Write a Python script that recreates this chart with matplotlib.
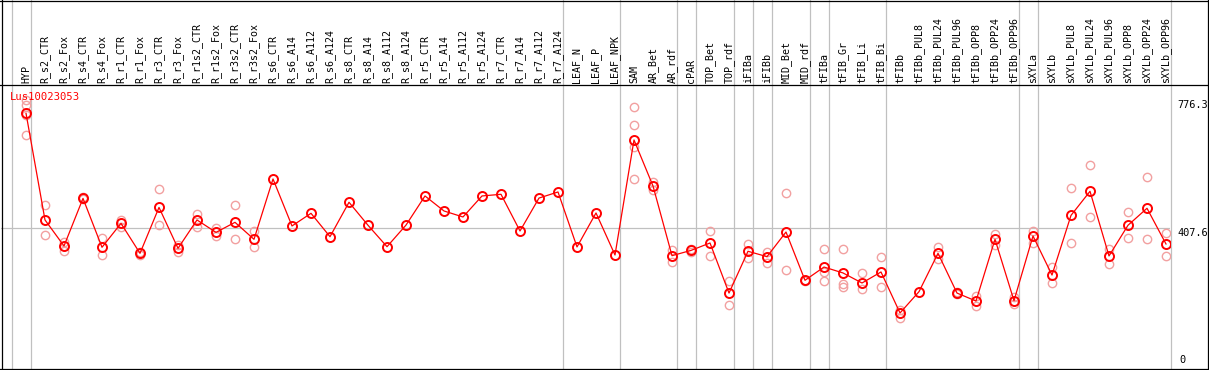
import matplotlib
matplotlib.use("Agg")
import matplotlib.pyplot as plt
from matplotlib.lines import Line2D
from matplotlib.transforms import blended_transform_factory

W, H = 1209, 370

samples = [
    "HYP", "R_s2_CTR", "R_s2_Fox", "R_s4_CTR", "R_s4_Fox", "R_r1_CTR", "R_r1_Fox",
    "R_r3_CTR", "R_r3_Fox", "R_r1s2_CTR", "R_r1s2_Fox", "R_r3s2_CTR", "R_r3s2_Fox",
    "R_s6_CTR", "R_s6_A14", "R_s6_A112", "R_s6_A124", "R_s8_CTR", "R_s8_A14",
    "R_s8_A112", "R_s8_A124", "R_r5_CTR", "R_r5_A14", "R_r5_A112", "R_r5_A124",
    "R_r7_CTR", "R_r7_A14", "R_r7_A112", "R_r7_A124", "LEAF_N", "LEAF_P", "LEAF_NPK",
    "SAM", "AR_Bet", "AR_rdf", "cPAR", "TOP_Bet", "TOP_rdf", "iFIBa", "iFIBb",
    "MID_Bet", "MID_rdf", "tFIBa", "tFIB_Gr", "tFIB_Li", "tFIB_Bi", "tFIBb",
    "tFIBb_PUL8", "tFIBb_PUL24", "tFIBb_PUL96", "tFIBb_OPP8", "tFIBb_OPP24", "tFIBb_OPP96",
    "sXYLa", "sXYLb", "sXYLb_PUL8", "sXYLb_PUL24", "sXYLb_PUL96", "sXYLb_OPP8",
    "sXYLb_OPP24", "sXYLb_OPP96",
]

means = [
    737.5, 429.8, 354.8, 492, 351, 420, 333.6, 466, 348, 429.8, 394, 423, 374,
    548, 412.5, 449, 381.6, 480.8, 414.5, 352.7, 415, 499, 455.7, 438.4, 499, 503.8,
    398, 493, 510.5,
    352, 450, 328.8,
    660.5, 527.8, 326.8, 342, 363.4, 219, 339.5, 324, 395, 255.8, 294, 277, 248, 279.8, 161.5,
    223, 333.6, 219, 196, 374, 197,
    383.6, 271, 443, 512.4, 326, 414.5, 463.5, 360.5,
]

replicates = [
    [776.3, 762, 733, 676], [473, 386.5], [367, 340], [497, 489], [377, 329],
    [430, 410], [337, 330], [519, 415], [357.6, 336.6], [447, 410], [405.5, 384.5],
    [473, 375], [398, 351],
    [], [], [], [], [], [], [], [], [], [], [], [], [], [], [], [],
    [], [], [],
    [755.7, 703.8, 641, 547], [540, 516], [343, 309.5], [347, 338], [397, 326],
    [253.8, 184.6], [360.5, 319], [336.6, 306.7], [506.6, 285.6], [258, 253],
    [346, 280.6, 253.8], [346, 244, 237], [277, 231], [323, 235.6], [170, 148],
    [], [352.8, 316.4], [222, 216], [211.5, 182.6], [389.4, 357.6], [208.5, 186.6],
    [399, 364], [295, 247], [521, 362.5], [587.5, 437.5], [346, 303], [452, 377],
    [553, 374], [391, 326],
]

# last sample of each block (-1 = left edge)
group_ends = [-1, 0, 28, 31, 34, 35, 37, 38, 39, 41, 42, 45, 52, 53, 60]

gene = "Lus10023053"
y_ticks = [776.3, 407.6, 0]
y_max = 819

red = "#ff0000"
pink = "#f2a0a0"
grey = "#c0c0c0"
mono = "DejaVu Sans Mono"

fig = plt.figure(figsize=(W / 100, H / 100), dpi=100)
ax = fig.add_axes([1 / W, 1 - 369 / H, 1169 / W, 284 / H])
ax.set_xlim((1 - 26) / 19, (1170 - 26) / 19)
ax.set_ylim(0, y_max)
ax.set_xticks([])
ax.set_yticks([])
for s in ax.spines.values():
    s.set_visible(False)

x = list(range(len(samples)))

# group separators run through the header too
for g in group_ends:
    ax.axvline(g + 0.25, ymin=0, ymax=369 / 284, color=grey, lw=0.9, clip_on=False, zorder=1)
ax.axhline(y_ticks[1], color=grey, lw=0.9, zorder=1)

for i, reps in enumerate(replicates):
    if reps:
        ax.plot([i] * len(reps), reps, "o", ms=6, mfc="none", mec=pink, mew=1.0, zorder=2)

ax.plot(x, means, "-", color=red, lw=0.9, zorder=3)
ax.plot(x, means, "o", ms=6.5, mfc="none", mec=red, mew=1.4, zorder=4)

trans = blended_transform_factory(ax.transData, ax.transAxes)
for i, name in enumerate(samples):
    ax.text(i, 1.007, name, transform=trans, rotation=90, ha="center", va="bottom",
            fontsize=7.2, family=mono, color="black")

ax.text(-0.85, 0.958, gene, transform=trans, fontsize=7.6, family=mono, color=red,
        va="center", ha="left", zorder=5)

xl = (1177 - 26) / 19
ax.text(xl, y_ticks[0], "776.3", fontsize=7.4, family=mono, va="top", ha="left")
ax.text(xl, y_ticks[1], "407.6", fontsize=7.4, family=mono, va="top", ha="left")
ax.text(xl + 0.1, y_ticks[2] + 12, "0", fontsize=7.4, family=mono, va="bottom", ha="left")

# outer frame and header rule
def hline(py, x0=0, x1=W):
    fig.add_artist(Line2D([x0 / W, x1 / W], [1 - py / H, 1 - py / H], color="black", lw=0.9))

def vline(px, y0=0, y1=H):
    fig.add_artist(Line2D([px / W, px / W], [1 - y0 / H, 1 - y1 / H], color="black", lw=0.9))

hline(0.5)
hline(85)
hline(369)
vline(1.5)
vline(1207.5)

fig.savefig("out.png", dpi=100, facecolor="white")
